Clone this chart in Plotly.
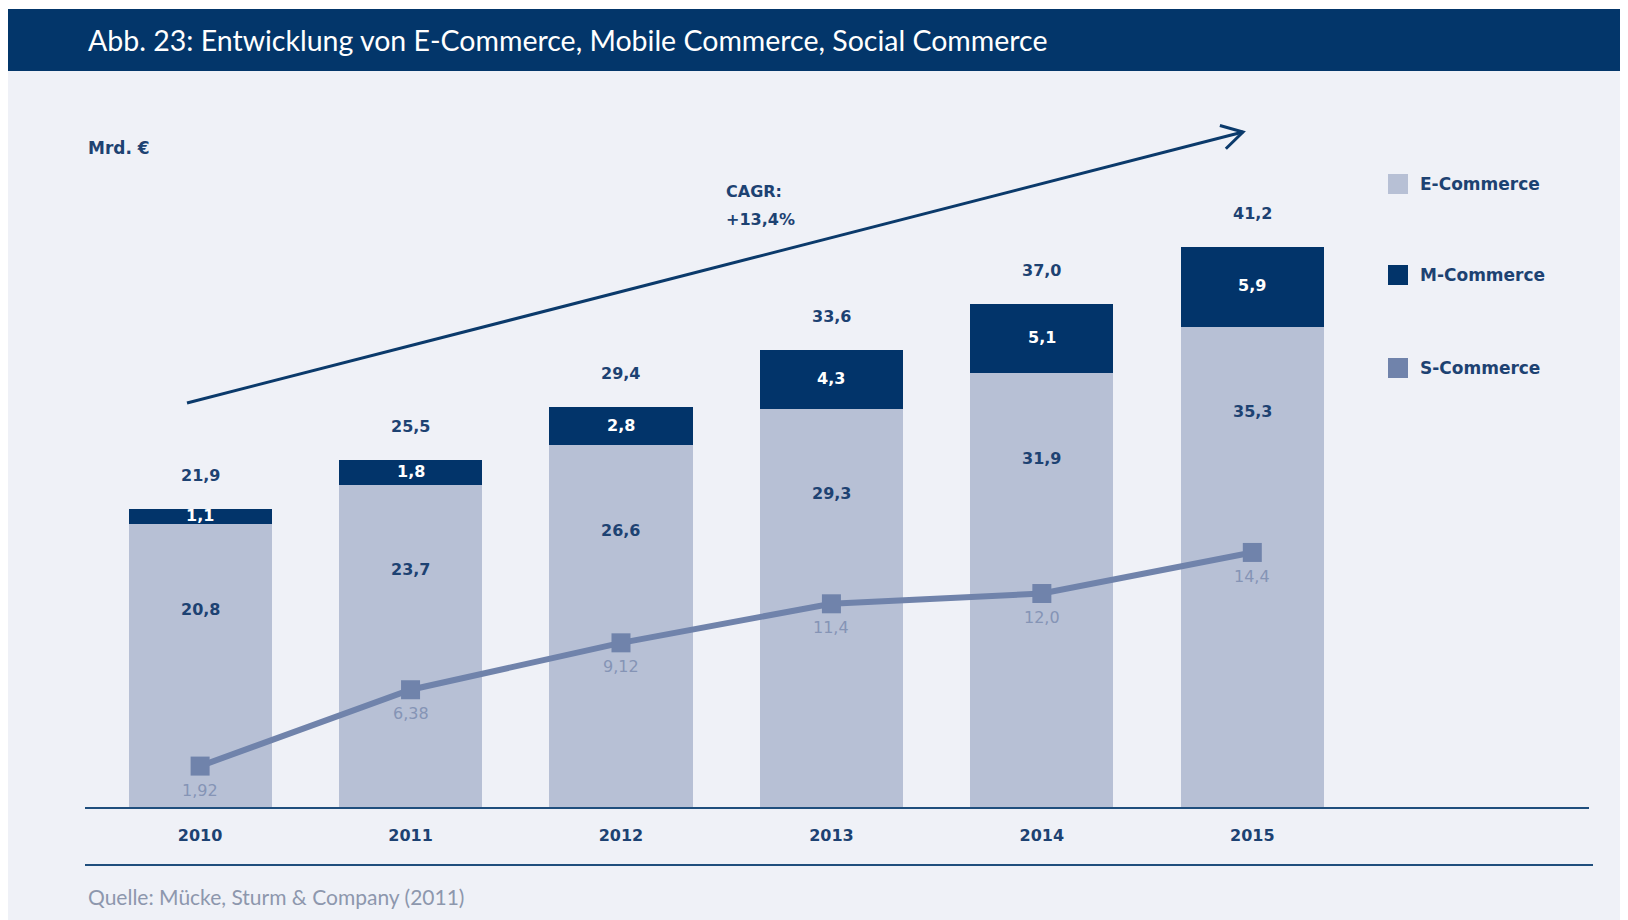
import math
import plotly.graph_objects as go

# ---- data ----
years = ["2010", "2011", "2012", "2013", "2014", "2015"]
e_commerce = [20.8, 23.7, 26.6, 29.3, 31.9, 35.3]
m_commerce = [1.1, 1.8, 2.8, 4.3, 5.1, 5.9]
totals = [21.9, 25.5, 29.4, 33.6, 37.0, 41.2]
s_commerce = [1.92, 6.38, 9.12, 11.4, 12.0, 14.4]
s_labels = ["1,92", "6,38", "9,12", "11,4", "12,0", "14,4"]
series_names = ["E-Commerce", "M-Commerce", "S-Commerce"]
title_text = "Abb. 23: Entwicklung von E-Commerce, Mobile Commerce, Social Commerce"
unit_text = "Mrd. €"
cagr_lines = ["CAGR:", "+13,4%"]
source_text = "Quelle: Mücke, Sturm & Company (2011)"


def de(v, nd=1):
    return f"{v:.{nd}f}".replace(".", ",")


# ---- styling ----
W, H = 1628, 920
OFF = 8  # page body margin
L, R, T, B = 85 - OFF, 47, 100 - OFF, 121
PW, PH = W - L - R, H - T - B
BG = "#eff1f7"
NAVY = "#02346a"
LIGHT = "#b7c0d5"
SCOL = "#7083ab"
TXT = "#1d4272"
SLAB = "#8594b5"
NUMFONT = "DejaVu Sans"
HFONT = "Lato"


def px(x):
    return (x - 85) / PW


def py(y):
    return (807 - y) / PH


idx = list(range(len(years)))

fig = go.Figure()
fig.add_trace(go.Bar(x=idx, y=e_commerce, name=series_names[0], marker=dict(color=LIGHT, line=dict(width=0)),
                     width=0.68, showlegend=False, hoverinfo="y"))
fig.add_trace(go.Bar(x=idx, y=m_commerce, name=series_names[1], marker=dict(color=NAVY, line=dict(width=0)),
                     width=0.68, showlegend=False, hoverinfo="y"))
fig.add_trace(go.Scatter(x=idx, y=s_commerce, name=series_names[2], yaxis="y2", mode="lines+markers",
                         line=dict(color=SCOL, width=6), marker=dict(symbol="square", size=19, color=SCOL),
                         showlegend=False))

ann = []
for i, e, m, t, s, sl in zip(idx, e_commerce, m_commerce, totals, s_commerce, s_labels):
    ann.append(dict(x=i, y=e, xref="x", yref="y", text=de(e), showarrow=False, yshift=-85,
                    font=dict(family=NUMFONT, size=16, color=TXT, weight="bold")))
    ann.append(dict(x=i, y=e + m / 2, xref="x", yref="y", text=de(m), showarrow=False, yshift=1,
                    font=dict(family=NUMFONT, size=16, color="white", weight="bold")))
    ann.append(dict(x=i, y=t, xref="x", yref="y", text=de(t), showarrow=False, yanchor="bottom", yshift=22,
                    font=dict(family=NUMFONT, size=16, color=TXT, weight="bold")))
    ann.append(dict(x=i, y=s, xref="x", yref="y2", text=sl, showarrow=False, yshift=-24,
                    font=dict(family=NUMFONT, size=16, color=SLAB)))

ann.append(dict(x=px(86), y=py(40), xref="paper", yref="paper", text=title_text, showarrow=False,
                xanchor="left", yanchor="middle", font=dict(family=HFONT, size=28.5, color="white")))
ann.append(dict(x=px(86), y=py(148), xref="paper", yref="paper", text=unit_text, showarrow=False,
                xanchor="left", yanchor="middle", font=dict(family=NUMFONT, size=17, color=TXT, weight="bold")))
for line, ly in zip(cagr_lines, [191, 219]):
    ann.append(dict(x=px(724), y=py(ly), xref="paper", yref="paper", text=line, showarrow=False,
                    xanchor="left", yanchor="middle",
                    font=dict(family=NUMFONT, size=16, color=TXT, weight="bold")))
ann.append(dict(x=px(86), y=py(896), xref="paper", yref="paper", text=source_text, showarrow=False,
                xanchor="left", yanchor="middle", font=dict(family=HFONT, size=21, color="#8d97ad")))

# legend (manual)
leg_cols = [LIGHT, NAVY, SCOL]
leg_y = [184, 275, 368]
shapes = []
for name, col, ly in zip(series_names, leg_cols, leg_y):
    shapes.append(dict(type="rect", xref="paper", yref="paper", x0=px(1388), x1=px(1408),
                       y0=py(ly + 10), y1=py(ly - 10), fillcolor=col, line=dict(width=0)))
    ann.append(dict(x=px(1418), y=py(ly), xref="paper", yref="paper", text=name, showarrow=False,
                    xanchor="left", yanchor="middle",
                    font=dict(family=NUMFONT, size=17, color=TXT, weight="bold")))

# background + title bar
shapes.insert(0, dict(type="rect", xref="paper", yref="paper", x0=px(0), x1=px(W + 20), y0=py(H + 20), y1=py(9),
                      fillcolor=BG, line=dict(width=0), layer="below"))
shapes.insert(1, dict(type="rect", xref="paper", yref="paper", x0=px(0), x1=px(W + 20), y0=py(71), y1=py(9),
                      fillcolor="#03366a", line=dict(width=0), layer="below"))
# lower rule
shapes.append(dict(type="line", xref="paper", yref="paper", x0=px(85), x1=px(1593), y0=py(865), y1=py(865),
                   line=dict(color="#1f4e7d", width=2)))
# CAGR arrow
x0a, y0a, x1a, y1a = 187, 403, 1243, 132
ang = math.atan2(y1a - y0a, x1a - x0a)
arms = []
for d in (math.radians(150), math.radians(-150)):
    arms.append((x1a + 24 * math.cos(ang + d), y1a + 24 * math.sin(ang + d)))
shapes.append(dict(type="line", xref="paper", yref="paper", x0=px(x0a), y0=py(y0a), x1=px(x1a), y1=py(y1a),
                   line=dict(color="#0b3a6b", width=3)))
path = f"M {px(arms[0][0])},{py(arms[0][1])} L {px(x1a)},{py(y1a)} L {px(arms[1][0])},{py(arms[1][1])}"
shapes.append(dict(type="path", xref="paper", yref="paper", path=path, line=dict(color="#0b3a6b", width=3)))

fig.update_layout(
    width=W, height=H, margin=dict(l=L, r=R, t=T, b=B, autoexpand=False),
    paper_bgcolor="white", plot_bgcolor=BG, barmode="stack",
    annotations=ann, shapes=shapes, showlegend=False,
    xaxis=dict(range=[-0.547, 6.60], showgrid=False, zeroline=False,
               tickmode="array", tickvals=idx, ticktext=years,
               showline=True, linecolor="#1f4e7d", linewidth=2, layer="below traces",
               ticks="outside", ticklen=13, tickcolor="rgba(0,0,0,0)",
               tickfont=dict(family=NUMFONT, size=16, color=TXT, weight="bold")),
    yaxis=dict(range=[0, PH / 13.6], visible=False, showgrid=False, zeroline=False, fixedrange=True),
    yaxis2=dict(range=[-0.47, 40.83], overlaying="y", visible=False, showgrid=False, zeroline=False),
)

fig.write_html("out.html")
